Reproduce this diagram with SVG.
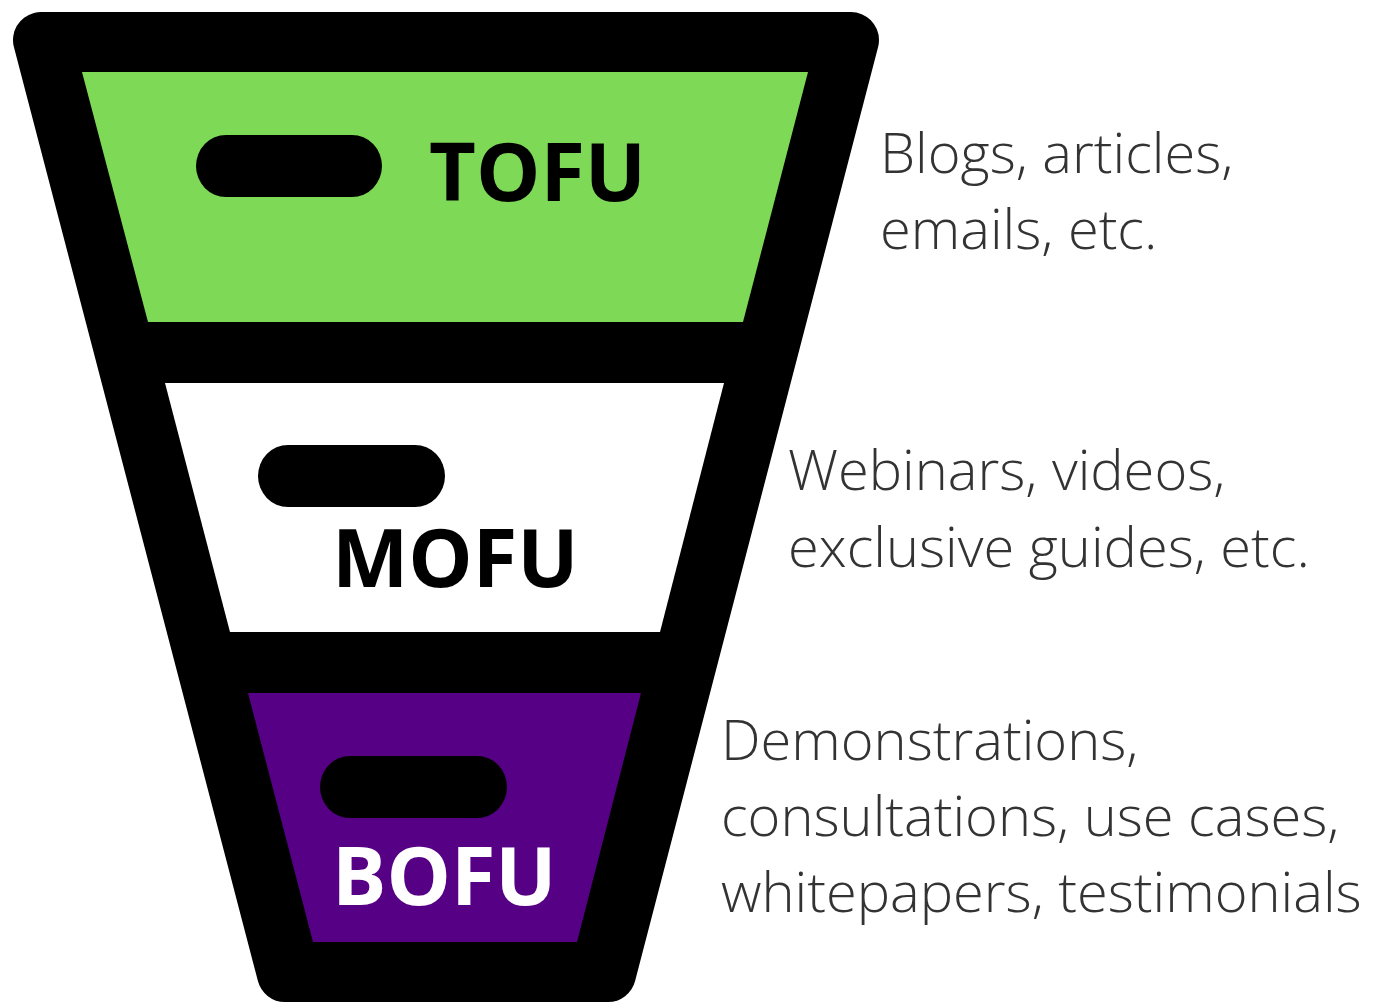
<svg xmlns="http://www.w3.org/2000/svg" width="1376" height="1003" viewBox="0 0 1376 1003">
  <style>
    .stage-label { font-family: "Open Sans", "Noto Sans", "DejaVu Sans", sans-serif; font-weight: 700; font-size: 81px; }
    .desc { font-family: "Open Sans", "Noto Sans", "DejaVu Sans", sans-serif; font-weight: 300; font-size: 56px; fill: #333333; }
    .pill { fill: #000000; }
  </style>
  <rect width="1376" height="1003" fill="#ffffff"/>

  <!-- funnel body -->
  <g id="funnel">
    <polygon points="41,40 851,40 608,974 285,974" fill="#000000" stroke="#000000" stroke-width="56" stroke-linejoin="round"/>
  </g>

  <!-- top of funnel -->
  <g id="tofu">
    <polygon points="82,72 808,72 743,322 148,322" fill="#7ed957"/>
    <rect class="pill" x="196" y="135" width="186" height="62" rx="30" ry="31"/>
    <text class="stage-label" x="429" y="201" fill="#000000">TOFU</text>
  </g>

  <!-- middle of funnel -->
  <g id="mofu">
    <polygon points="165,383 724,383 660,632 230,632" fill="#ffffff"/>
    <rect class="pill" x="258" y="445" width="187" height="62" rx="30" ry="31"/>
    <text class="stage-label" x="332" y="587" fill="#000000">MOFU</text>
  </g>

  <!-- bottom of funnel -->
  <g id="bofu">
    <polygon points="248,693 641,693 577,942 313,942" fill="#560086"/>
    <rect class="pill" x="320" y="756" width="187" height="62" rx="30" ry="31"/>
    <text class="stage-label" x="332" y="905" fill="#ffffff">BOFU</text>
  </g>

  <!-- content types per stage -->
  <g id="tofu-desc">
    <text class="desc" x="880" y="173">Blogs, articles,</text>
    <text class="desc" x="880" y="249">emails, etc.</text>
  </g>
  <g id="mofu-desc">
    <text class="desc" x="788" y="490">Webinars, videos,</text>
    <text class="desc" x="788" y="567">exclusive guides, etc.</text>
  </g>
  <g id="bofu-desc">
    <text class="desc" x="721" y="760">Demonstrations,</text>
    <text class="desc" x="721" y="836">consultations, use cases,</text>
    <text class="desc" x="721" y="912">whitepapers, testimonials</text>
  </g>

  <g id="connectors"/>
</svg>
